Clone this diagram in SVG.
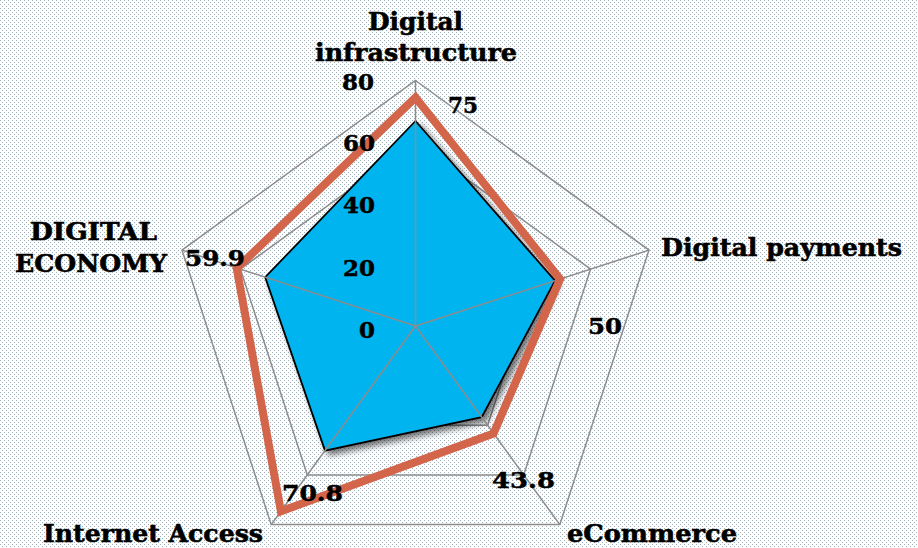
<svg xmlns="http://www.w3.org/2000/svg" width="918" height="548" viewBox="0 0 918 548">
<defs>
<pattern id="dots" width="4" height="4" patternUnits="userSpaceOnUse">
<rect width="4" height="4" fill="#ffffff"/>
<rect x="0" y="0" width="1" height="1" fill="#9fb1bb"/>
<rect x="2" y="2" width="1" height="1" fill="#9fb1bb"/>
</pattern>
<filter id="shadow" x="-20%" y="-20%" width="140%" height="140%">
<feDropShadow dx="4" dy="4" stdDeviation="3" flood-color="#000" flood-opacity="0.55"/>
</filter>
<style>
.ring{fill:none;stroke:#8c8c8c;stroke-width:1.5}
.spoke{stroke:#8c8c8c;stroke-width:1.5}
.cat{font-family:"DejaVu Serif","Liberation Serif",serif;font-weight:bold;font-size:25px;fill:#000;stroke:#000;stroke-width:0.6}
.num{font-family:"DejaVu Serif","Liberation Serif",serif;font-weight:bold;font-size:23px;fill:#000;stroke:#000;stroke-width:0.5}
</style>
</defs>
<rect id="background" width="918" height="548" fill="url(#dots)"/>
<g id="grid">
<polygon class="ring" points="415.5,80.5 648.98,250.14 559.8,524.61 271.2,524.61 182.02,250.14"/>
<polygon class="ring" points="415.5,141.9 590.6,269.1 523.7,474.96 307.3,474.96 240.4,269.1"/>
<polygon class="ring" points="415.5,203.25 532.2,288.07 487.65,425.3 343.35,425.3 298.76,288.07"/>
<polygon class="ring" points="415.5,264.6 473.9,307 451.6,375.65 379.4,375.65 357.1,307"/>
</g>
<g id="series-blue">
<polygon points="415.5,121 555,280.7 481.7,417.2 325,450.6 265.2,277.2" fill="#00b4f0" stroke="#000" stroke-width="1.8" stroke-linejoin="miter" filter="url(#shadow)"/>
</g>
<g id="spokes">
<line class="spoke" x1="415.5" y1="326" x2="415.5" y2="80.5"/>
<line class="spoke" x1="415.5" y1="326" x2="648.98" y2="250.14"/>
<line class="spoke" x1="415.5" y1="326" x2="559.8" y2="524.61"/>
<line class="spoke" x1="415.5" y1="326" x2="271.2" y2="524.61"/>
<line class="spoke" x1="415.5" y1="326" x2="182.02" y2="250.14"/>
</g>
<g id="series-orange">
<polygon points="415.5,97.5 560.1,279 493.5,433.5 280.9,511.3 236.7,268.3" fill="none" stroke="#d2654a" stroke-width="8" stroke-linejoin="miter" stroke-miterlimit="10"/>
</g>
<g id="axis-labels">
<text class="num" x="374" y="90" text-anchor="end">80</text>
<text class="num" x="375" y="150.5" text-anchor="end">60</text>
<text class="num" x="375" y="213" text-anchor="end">40</text>
<text class="num" x="375" y="275.5" text-anchor="end">20</text>
<text class="num" x="375" y="338" text-anchor="end">0</text>
</g>
<g id="data-labels">
<text class="num" x="448" y="112.5" textLength="30" lengthAdjust="spacingAndGlyphs">75</text>
<text class="num" x="588" y="334" textLength="34" lengthAdjust="spacingAndGlyphs">50</text>
<text class="num" x="492" y="487.5" textLength="63" lengthAdjust="spacingAndGlyphs">43.8</text>
<text class="num" x="282" y="501" textLength="61" lengthAdjust="spacingAndGlyphs">70.8</text>
<text class="num" x="185" y="266" textLength="60" lengthAdjust="spacingAndGlyphs">59.9</text>
</g>
<g id="category-labels">
<g id="cat-infrastructure">
<text class="cat" x="368" y="30" textLength="95" lengthAdjust="spacingAndGlyphs">Digital</text>
<text class="cat" x="315" y="61" textLength="202" lengthAdjust="spacingAndGlyphs">infrastructure</text>
</g>
<g id="cat-payments">
<text class="cat" x="661" y="256" textLength="241" lengthAdjust="spacingAndGlyphs">Digital payments</text>
</g>
<g id="cat-ecommerce">
<text class="cat" x="567" y="542" textLength="170" lengthAdjust="spacingAndGlyphs">eCommerce</text>
</g>
<g id="cat-internet">
<text class="cat" x="43" y="542" textLength="220" lengthAdjust="spacingAndGlyphs">Internet Access</text>
</g>
<g id="cat-economy">
<text class="cat" x="30" y="240" textLength="127" lengthAdjust="spacingAndGlyphs">DIGITAL</text>
<text class="cat" x="15" y="272" textLength="152" lengthAdjust="spacingAndGlyphs">ECONOMY</text>
</g>
</g>
</svg>
